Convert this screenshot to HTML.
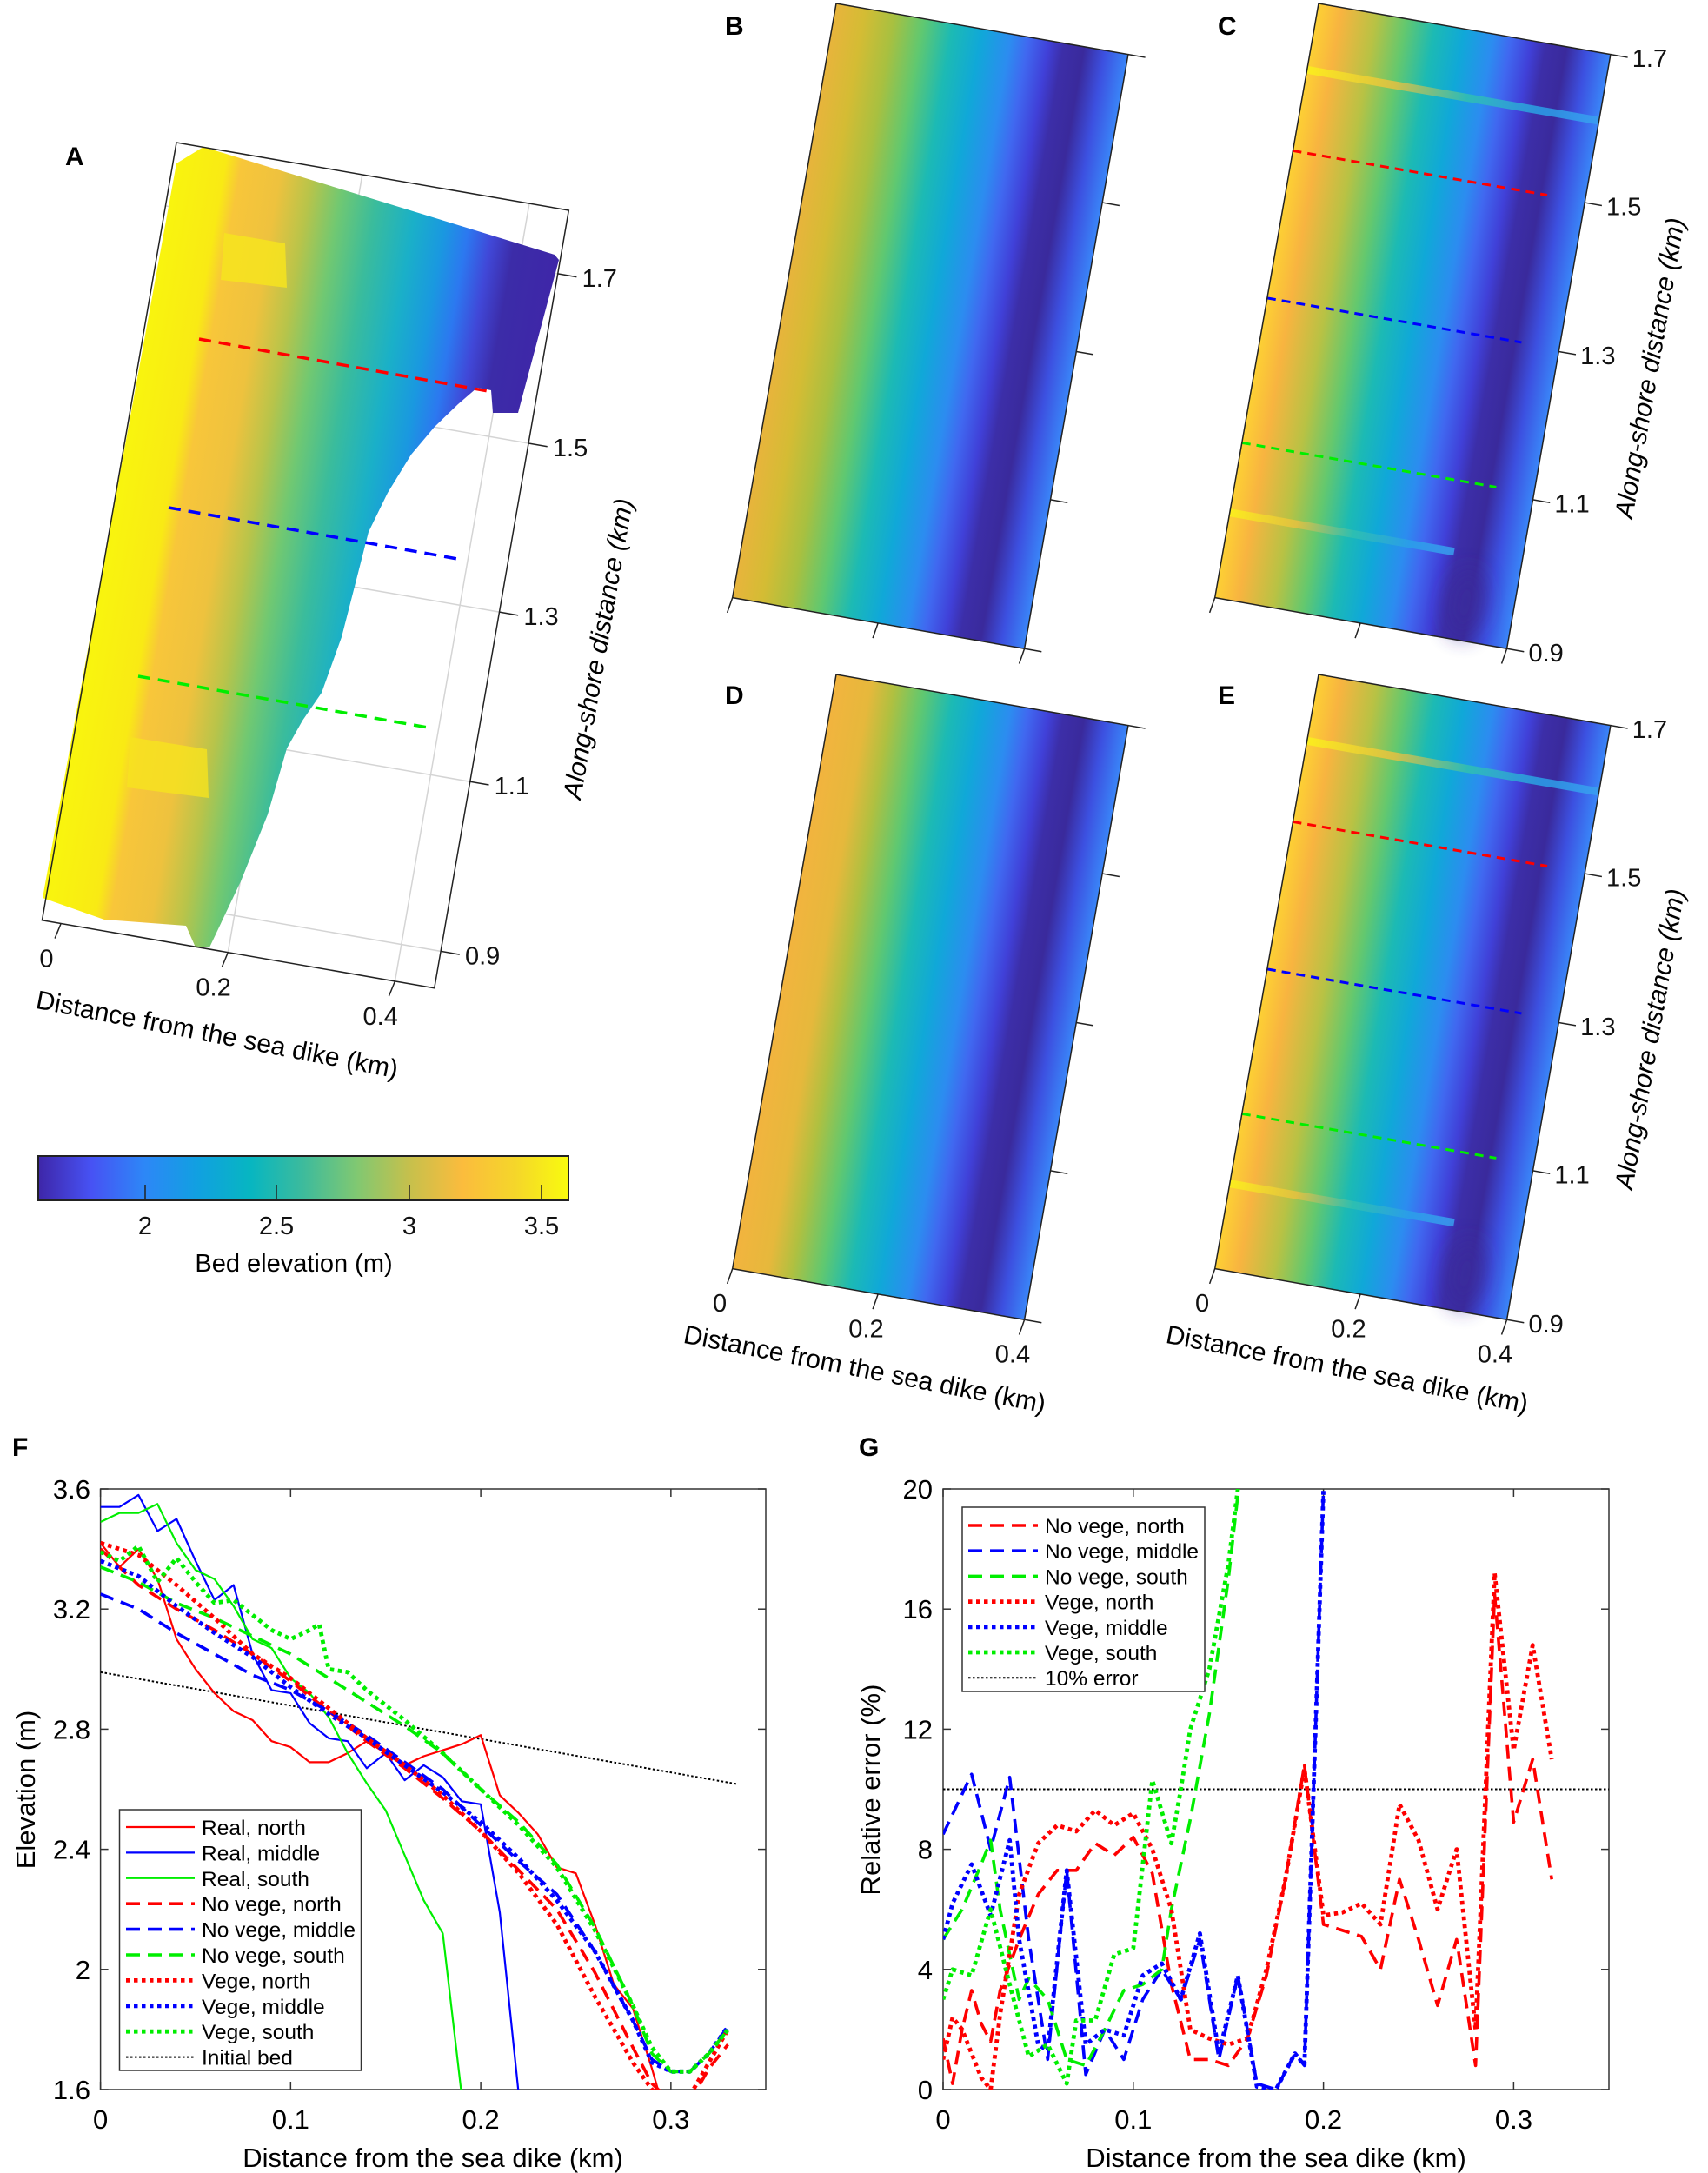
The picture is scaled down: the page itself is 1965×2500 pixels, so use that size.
<!DOCTYPE html>
<html><head><meta charset="utf-8">
<style>
html,body{margin:0;padding:0;background:#fff;}
svg{display:block;font-family:"Liberation Sans",Arial,sans-serif;}
</style></head>
<body>
<svg id="fig" width="1965" height="2500" viewBox="0 0 1965 2500" xmlns="http://www.w3.org/2000/svg">
<defs>
  <linearGradient id="gA" gradientUnits="userSpaceOnUse" x1="203" y1="164" x2="654" y2="242">
    <stop offset="0" stop-color="#f9f50e"/><stop offset="0.13" stop-color="#f9ea14"/>
    <stop offset="0.17" stop-color="#f8c63a"/><stop offset="0.27" stop-color="#eec23e"/>
    <stop offset="0.35" stop-color="#b8c44a"/><stop offset="0.43" stop-color="#70c872"/>
    <stop offset="0.52" stop-color="#3abc9c"/><stop offset="0.62" stop-color="#1ab0c8"/>
    <stop offset="0.70" stop-color="#1a98e0"/><stop offset="0.76" stop-color="#2c78f0"/>
    <stop offset="0.82" stop-color="#4048d8"/><stop offset="0.88" stop-color="#3c2ca8"/>
    <stop offset="1" stop-color="#3e26a8"/>
  </linearGradient>
  <linearGradient id="gB" x1="0" y1="0" x2="1" y2="0">
    <stop offset="0" stop-color="#e8b43c"/><stop offset="0.1" stop-color="#d4bc34"/>
    <stop offset="0.2" stop-color="#a8c040"/><stop offset="0.3" stop-color="#60c870"/>
    <stop offset="0.4" stop-color="#1cbab4"/><stop offset="0.5" stop-color="#10a8d8"/>
    <stop offset="0.6" stop-color="#2c8cf0"/><stop offset="0.66" stop-color="#4068f0"/>
    <stop offset="0.73" stop-color="#4040d8"/><stop offset="0.78" stop-color="#3c2ea8"/>
    <stop offset="0.85" stop-color="#3a2a9c"/><stop offset="0.92" stop-color="#3c50e0"/>
    <stop offset="1" stop-color="#3a86f8"/>
  </linearGradient>
  <linearGradient id="gC" x1="0" y1="0" x2="1" y2="0">
    <stop offset="0" stop-color="#fdd034"/><stop offset="0.08" stop-color="#f8b440"/>
    <stop offset="0.2" stop-color="#b8c244"/><stop offset="0.3" stop-color="#64c86e"/>
    <stop offset="0.4" stop-color="#1cbab4"/><stop offset="0.5" stop-color="#10a8d8"/>
    <stop offset="0.6" stop-color="#2c8cf0"/><stop offset="0.66" stop-color="#4068f0"/>
    <stop offset="0.73" stop-color="#4040d8"/><stop offset="0.78" stop-color="#3c2ea8"/>
    <stop offset="0.85" stop-color="#3a2a9c"/><stop offset="0.92" stop-color="#3c50e0"/>
    <stop offset="1" stop-color="#3a86f8"/>
  </linearGradient>
  <linearGradient id="gD" x1="0" y1="0" x2="1" y2="0">
    <stop offset="0" stop-color="#f2b43e"/><stop offset="0.12" stop-color="#e6b83c"/>
    <stop offset="0.2" stop-color="#b0c040"/><stop offset="0.3" stop-color="#60c870"/>
    <stop offset="0.4" stop-color="#1cbab4"/><stop offset="0.5" stop-color="#10a8d8"/>
    <stop offset="0.6" stop-color="#2c8cf0"/><stop offset="0.66" stop-color="#4068f0"/>
    <stop offset="0.73" stop-color="#4040d8"/><stop offset="0.78" stop-color="#3c2ea8"/>
    <stop offset="0.85" stop-color="#3a2a9c"/><stop offset="0.92" stop-color="#3c50e0"/>
    <stop offset="1" stop-color="#3a86f8"/>
  </linearGradient>
  <linearGradient id="gStripe" x1="0" y1="0" x2="1" y2="0">
    <stop offset="0" stop-color="#fbf21a"/><stop offset="0.3" stop-color="#e8c040"/>
    <stop offset="0.55" stop-color="#30c0b0"/><stop offset="0.8" stop-color="#2aa0e8"/>
    <stop offset="1" stop-color="#3aa0f0"/>
  </linearGradient>
  <linearGradient id="gCbar" x1="0" y1="0" x2="1" y2="0">
    <stop offset="0" stop-color="#3e26a8"/><stop offset="0.1" stop-color="#4752f4"/>
    <stop offset="0.2" stop-color="#2d87f7"/><stop offset="0.3" stop-color="#11a0e1"/>
    <stop offset="0.4" stop-color="#07b6c1"/><stop offset="0.5" stop-color="#3dbb9c"/>
    <stop offset="0.6" stop-color="#80c872"/><stop offset="0.7" stop-color="#c6c04c"/>
    <stop offset="0.8" stop-color="#fbbc3d"/><stop offset="0.9" stop-color="#f5d62a"/>
    <stop offset="1" stop-color="#f9fb0e"/>
  </linearGradient>
  <filter id="blur" x="-50%" y="-50%" width="200%" height="200%"><feGaussianBlur stdDeviation="12"/></filter>
  <clipPath id="clipF"><rect x="115.6" y="1713" width="765.4" height="691"/></clipPath>
  <clipPath id="clipG"><rect x="1085" y="1713" width="766" height="691"/></clipPath>
</defs>

<!-- ================= PANEL A ================= -->
<g>
  <text x="75" y="190" font-size="30" font-weight="bold">A</text>
  <g transform="translate(203,164) rotate(9.8)" stroke="#d4d4d4" stroke-width="1.5">
    <line x1="217" y1="0" x2="217" y2="908"/><line x1="412" y1="0" x2="412" y2="908"/>
    <line x1="0" y1="272" x2="458" y2="272"/><line x1="0" y1="469" x2="458" y2="469"/><line x1="0" y1="667" x2="458" y2="667"/>
    <line x1="0" y1="74" x2="458" y2="74"/><line x1="0" y1="865" x2="458" y2="865"/>
  </g>
  <polygon fill="url(#gA)"
    points="203,188 234,169 638,293 643,299 596,475 567,475 565,449 549,446 527,465 500,491 473,523 446,567 424,612 411,663 393,733 370,797 348,829 330,861 308,937 277,1014 241,1090 225,1090 214,1065 120,1058 49,1033"/>
  <polygon fill="#f6e41e" opacity="0.85" points="258,268 328,280 330,331 254,322"/>
  <polygon fill="#f6e41e" opacity="0.8" points="150,848 238,862 240,918 146,906"/>
  <line x1="229" y1="390" x2="567" y2="451" stroke="#ff0000" stroke-width="3.5" stroke-dasharray="14 9"/>
  <line x1="194" y1="584" x2="532" y2="644" stroke="#0000ff" stroke-width="3.5" stroke-dasharray="14 9"/>
  <line x1="159" y1="778" x2="498" y2="838" stroke="#00ee00" stroke-width="3.5" stroke-dasharray="14 9"/>
  <g transform="translate(203,164) rotate(9.8)">
    <rect x="0" y="0" width="458" height="908" fill="none" stroke="#222" stroke-width="1.5"/>
    <g stroke="#222" stroke-width="1.5">
      <line x1="22" y1="908" x2="18" y2="926"/><line x1="217" y1="908" x2="213" y2="926"/><line x1="412" y1="908" x2="408" y2="926"/>
      <line x1="458" y1="74" x2="480" y2="74"/><line x1="458" y1="272" x2="480" y2="272"/><line x1="458" y1="469" x2="480" y2="469"/><line x1="458" y1="667" x2="480" y2="667"/><line x1="458" y1="865" x2="480" y2="865"/>
    </g>
    <g font-size="29" fill="#111">
      <text transform="translate(488,84) rotate(-9.8)">1.7</text>
      <text transform="translate(488,282) rotate(-9.8)">1.5</text>
      <text transform="translate(488,479) rotate(-9.8)">1.3</text>
      <text transform="translate(488,677) rotate(-9.8)">1.1</text>
      <text transform="translate(488,875) rotate(-9.8)">0.9</text>
      <text transform="translate(14,960) rotate(-9.8)" text-anchor="middle">0</text>
      <text transform="translate(209,960) rotate(-9.8)" text-anchor="middle">0.2</text>
      <text transform="translate(404,960) rotate(-9.8)" text-anchor="middle">0.4</text>
    </g>
  </g>
  <text transform="translate(248,1200) rotate(11)" text-anchor="middle" font-size="30">Distance from the sea dike (km)</text>
  <text transform="translate(698,748) rotate(-80.1)" text-anchor="middle" font-size="30" font-style="italic">Along-shore distance (km)</text>
</g>

<!-- colorbar -->
<g>
  <rect x="44" y="1330" width="610" height="51" fill="url(#gCbar)" stroke="#222" stroke-width="2"/>
  <g stroke="#222" stroke-width="1.5">
    <line x1="167" y1="1381" x2="167" y2="1363"/><line x1="318" y1="1381" x2="318" y2="1363"/>
    <line x1="471" y1="1381" x2="471" y2="1363"/><line x1="623" y1="1381" x2="623" y2="1363"/>
  </g>
  <g font-size="29" text-anchor="middle" fill="#111">
    <text x="167" y="1420">2</text><text x="318" y="1420">2.5</text><text x="471" y="1420">3</text><text x="623" y="1420">3.5</text>
  </g>
  <text x="338" y="1463" text-anchor="middle" font-size="29">Bed elevation (m)</text>
</g>

<!-- ================= PANELS B-E ================= -->
<g>
  <text x="834" y="40" font-size="30" font-weight="bold">B</text>
  <g transform="translate(962,4) rotate(9.9)">
    <rect x="0" y="0" width="341" height="694" fill="url(#gB)" stroke="#222" stroke-width="1.5"/>
    <g stroke="#222" stroke-width="1.5">
      <line x1="341" y1="0" x2="361" y2="0"/><line x1="341" y1="173" x2="361" y2="173"/><line x1="341" y1="347" x2="361" y2="347"/><line x1="341" y1="520" x2="361" y2="520"/><line x1="341" y1="694" x2="361" y2="694"/>
      <line x1="0" y1="694" x2="-3" y2="712"/><line x1="170" y1="694" x2="167" y2="712"/><line x1="341" y1="694" x2="338" y2="712"/>
    </g>
  </g>
</g>
<g>
  <text x="1401" y="40" font-size="30" font-weight="bold">C</text>
  <g transform="translate(1517,4) rotate(9.9)">
    <rect x="0" y="0" width="341" height="694" fill="url(#gC)"/>
    <rect x="0" y="73" width="341" height="9" fill="url(#gStripe)" opacity="0.85"/>
    <rect x="0" y="590" width="262" height="9" fill="url(#gStripe)" opacity="0.85"/>
    <ellipse cx="285" cy="650" rx="22" ry="40" fill="#3a2a9c" opacity="0.8" filter="url(#blur)"/>
    <line x1="0" y1="172" x2="297" y2="172" stroke="#ff0000" stroke-width="3" stroke-dasharray="10 7"/>
    <line x1="0" y1="344" x2="297" y2="344" stroke="#0000ff" stroke-width="3" stroke-dasharray="10 7"/>
    <line x1="0" y1="513" x2="297" y2="513" stroke="#00ee00" stroke-width="3" stroke-dasharray="10 7"/>
    <rect x="0" y="0" width="341" height="694" fill="none" stroke="#222" stroke-width="1.5"/>
    <g stroke="#222" stroke-width="1.5">
      <line x1="341" y1="0" x2="361" y2="0"/><line x1="341" y1="173" x2="361" y2="173"/><line x1="341" y1="347" x2="361" y2="347"/><line x1="341" y1="520" x2="361" y2="520"/><line x1="341" y1="694" x2="361" y2="694"/>
      <line x1="0" y1="694" x2="-3" y2="712"/><line x1="170" y1="694" x2="167" y2="712"/><line x1="341" y1="694" x2="338" y2="712"/>
    </g>
    <g font-size="29" fill="#111">
      <text transform="translate(368,10) rotate(-9.9)">1.7</text>
      <text transform="translate(368,183) rotate(-9.9)">1.5</text>
      <text transform="translate(368,357) rotate(-9.9)">1.3</text>
      <text transform="translate(368,530) rotate(-9.9)">1.1</text>
      <text transform="translate(368,704) rotate(-9.9)">0.9</text>
    </g>
  </g>
  <text transform="translate(1908,425) rotate(-80.1)" text-anchor="middle" font-size="30" font-style="italic">Along-shore distance (km)</text>
</g>
<g>
  <text x="834" y="810" font-size="30" font-weight="bold">D</text>
  <g transform="translate(962,776) rotate(9.9)">
    <rect x="0" y="0" width="341" height="694" fill="url(#gD)" stroke="#222" stroke-width="1.5"/>
    <g stroke="#222" stroke-width="1.5">
      <line x1="341" y1="0" x2="361" y2="0"/><line x1="341" y1="173" x2="361" y2="173"/><line x1="341" y1="347" x2="361" y2="347"/><line x1="341" y1="520" x2="361" y2="520"/><line x1="341" y1="694" x2="361" y2="694"/>
      <line x1="0" y1="694" x2="-3" y2="712"/><line x1="170" y1="694" x2="167" y2="712"/><line x1="341" y1="694" x2="338" y2="712"/>
    </g>
    <g font-size="29" fill="#111" text-anchor="middle">
      <text transform="translate(-6,745) rotate(-9.9)">0</text>
      <text transform="translate(165,745) rotate(-9.9)">0.2</text>
      <text transform="translate(336,745) rotate(-9.9)">0.4</text>
    </g>
  </g>
  <text transform="translate(993,1585) rotate(11)" text-anchor="middle" font-size="30">Distance from the sea dike (km)</text>
</g>
<g>
  <text x="1401" y="810" font-size="30" font-weight="bold">E</text>
  <g transform="translate(1517,776) rotate(9.9)">
    <rect x="0" y="0" width="341" height="694" fill="url(#gC)"/>
    <rect x="0" y="73" width="341" height="9" fill="url(#gStripe)" opacity="0.85"/>
    <rect x="0" y="590" width="262" height="9" fill="url(#gStripe)" opacity="0.85"/>
    <ellipse cx="285" cy="650" rx="22" ry="40" fill="#3a2a9c" opacity="0.8" filter="url(#blur)"/>
    <line x1="0" y1="172" x2="297" y2="172" stroke="#ff0000" stroke-width="3" stroke-dasharray="10 7"/>
    <line x1="0" y1="344" x2="297" y2="344" stroke="#0000ff" stroke-width="3" stroke-dasharray="10 7"/>
    <line x1="0" y1="513" x2="297" y2="513" stroke="#00ee00" stroke-width="3" stroke-dasharray="10 7"/>
    <rect x="0" y="0" width="341" height="694" fill="none" stroke="#222" stroke-width="1.5"/>
    <g stroke="#222" stroke-width="1.5">
      <line x1="341" y1="0" x2="361" y2="0"/><line x1="341" y1="173" x2="361" y2="173"/><line x1="341" y1="347" x2="361" y2="347"/><line x1="341" y1="520" x2="361" y2="520"/><line x1="341" y1="694" x2="361" y2="694"/>
      <line x1="0" y1="694" x2="-3" y2="712"/><line x1="170" y1="694" x2="167" y2="712"/><line x1="341" y1="694" x2="338" y2="712"/>
    </g>
    <g font-size="29" fill="#111">
      <text transform="translate(368,10) rotate(-9.9)">1.7</text>
      <text transform="translate(368,183) rotate(-9.9)">1.5</text>
      <text transform="translate(368,357) rotate(-9.9)">1.3</text>
      <text transform="translate(368,530) rotate(-9.9)">1.1</text>
      <text transform="translate(368,704) rotate(-9.9)">0.9</text>
    </g>
    <g font-size="29" fill="#111" text-anchor="middle">
      <text transform="translate(-6,745) rotate(-9.9)">0</text>
      <text transform="translate(165,745) rotate(-9.9)">0.2</text>
      <text transform="translate(336,745) rotate(-9.9)">0.4</text>
    </g>
  </g>
  <text transform="translate(1908,1197) rotate(-80.1)" text-anchor="middle" font-size="30" font-style="italic">Along-shore distance (km)</text>
  <text transform="translate(1548,1585) rotate(11)" text-anchor="middle" font-size="30">Distance from the sea dike (km)</text>
</g>

<!-- ================= PANEL F ================= -->
<g id="panelF">
  <text x="14" y="1675" font-size="30" font-weight="bold">F</text>
  <rect x="115.6" y="1713" width="765.4" height="691" fill="#fff" stroke="#333" stroke-width="1.5"/>
  <g id="fTicks"></g>
  <g id="fLines" clip-path="url(#clipF)"></g>
  <text x="498" y="2493" text-anchor="middle" font-size="31">Distance from the sea dike (km)</text>
  <text transform="translate(40,2059) rotate(-90)" text-anchor="middle" font-size="31">Elevation (m)</text>
  <g id="fLegend"></g>
</g>

<!-- ================= PANEL G ================= -->
<g id="panelG">
  <text x="988" y="1675" font-size="30" font-weight="bold">G</text>
  <rect x="1085" y="1713" width="766" height="691" fill="#fff" stroke="#333" stroke-width="1.5"/>
  <g id="gTicks"></g>
  <g id="gLines" clip-path="url(#clipG)"></g>
  <text x="1468" y="2493" text-anchor="middle" font-size="31">Distance from the sea dike (km)</text>
  <text transform="translate(1012,2059) rotate(-90)" text-anchor="middle" font-size="31">Relative error (%)</text>
  <g id="gLegend"></g>
</g>
</svg>

<script>
// ---------- Panel F data ----------
const realNorthX = [0,.01,.02,.03,.04,.05,.06,.07,.08,.09,.10,.11,.12,.13,.14,.15,.16,.17,.18,.19,.20,.21,.22,.23,.24,.25,.26,.27,.28,.29,.30];
const realNorthY = [3.42,3.34,3.40,3.30,3.10,3.00,2.92,2.86,2.83,2.76,2.74,2.69,2.69,2.72,2.76,2.72,2.68,2.71,2.73,2.75,2.78,2.58,2.52,2.45,2.34,2.32,2.15,1.95,1.87,1.67,1.45];
const realMiddleX = [0,.01,.02,.03,.04,.05,.06,.07,.08,.09,.10,.11,.12,.13,.14,.15,.16,.17,.18,.19,.20,.21,.22];
const realMiddleY = [3.54,3.54,3.58,3.46,3.50,3.36,3.23,3.28,3.05,2.93,2.92,2.82,2.77,2.76,2.67,2.72,2.63,2.68,2.64,2.56,2.55,2.19,1.58];
const realSouthX = [0,.01,.02,.03,.04,.05,.06,.07,.08,.09,.10,.11,.12,.13,.14,.15,.16,.17,.18,.19];
const realSouthY = [3.49,3.52,3.52,3.55,3.42,3.33,3.30,3.21,3.10,3.07,2.97,2.92,2.84,2.72,2.62,2.53,2.38,2.23,2.12,1.58];
const modelX = [0,.02,.04,.06,.08,.10,.12,.14,.16,.18,.20,.22,.24,.26,.28,.29,.30,.31,.32,.33];
const noVegeNorthY = [3.40,3.28,3.20,3.13,3.05,2.96,2.86,2.76,2.67,2.57,2.46,2.33,2.20,1.99,1.74,1.62,1.56,1.56,1.67,1.75];
const noVegeMiddleY = [3.25,3.20,3.12,3.05,2.98,2.93,2.86,2.78,2.69,2.60,2.48,2.36,2.25,2.06,1.83,1.70,1.66,1.66,1.72,1.81];
const noVegeSouthY = [3.34,3.29,3.22,3.17,3.11,3.05,2.97,2.89,2.81,2.72,2.60,2.49,2.35,2.14,1.88,1.72,1.66,1.66,1.72,1.80];
const vegeNorthY = [3.42,3.38,3.28,3.17,3.05,2.97,2.87,2.77,2.68,2.58,2.46,2.32,2.15,1.91,1.69,1.60,1.55,1.58,1.69,1.80];
const vegeMiddleY = [3.36,3.31,3.21,3.12,3.04,2.94,2.85,2.77,2.68,2.59,2.49,2.37,2.23,2.06,1.83,1.69,1.66,1.66,1.72,1.81];
const vegeSouthX = [0,.01,.02,.03,.04,.05,.06,.07,.08,.09,.10,.11,.115,.12,.13,.14,.16,.18,.20,.22,.24,.26,.28,.29,.30,.31,.32,.33];
const vegeSouthY = [3.39,3.36,3.41,3.29,3.37,3.29,3.22,3.23,3.18,3.13,3.10,3.13,3.15,3.00,2.99,2.93,2.83,2.72,2.60,2.48,2.34,2.13,1.88,1.74,1.66,1.66,1.72,1.80];
const initBedX = [0,0.335];
const initBedY = [2.99,2.617];
const fXTicks = [0,0.1,0.2,0.3];
const fXTickLabels = ["0","0.1","0.2","0.3"];
const fYTicks = [1.6,2,2.4,2.8,3.2,3.6];
const fYTickLabels = ["1.6","2","2.4","2.8","3.2","3.6"];
const fLegendLabels = ["Real, north","Real, middle","Real, south","No vege, north","No vege, middle","No vege, south","Vege, north","Vege, middle","Vege, south","Initial bed"];

// ---------- Panel G data ----------
const nvNorthX = [0,.005,.01,.015,.02,.025,.03,.04,.05,.06,.07,.08,.09,.10,.11,.12,.13,.14,.15,.16,.17,.18,.19,.20,.21,.22,.23,.24,.25,.26,.27,.28,.29,.30,.31,.32];
const nvNorthY = [1.7,0.2,2.0,3.3,2.2,1.6,3.3,5.0,6.5,7.3,7.3,8.2,7.8,8.4,7.2,3.5,1.0,1.0,0.8,1.7,3.8,7.0,10.8,5.5,5.3,5.1,4.0,7.0,5.0,2.8,5.0,0.8,16.5,8.9,11.0,7.0];
const vNorthY = [1.0,2.4,2.0,1.2,0.4,0.0,2.5,6.5,8.2,8.8,8.6,9.3,8.8,9.2,8.0,6.0,2.0,1.7,1.5,1.7,4.0,7.0,10.7,5.8,5.9,6.2,5.5,9.5,8.3,6.0,8.0,2.0,17.2,11.3,14.8,11.0];
const nvMiddleX = [0,.015,.025,.035,.045,.055,.065,.075,.085,.095,.105,.115,.125,.135,.145,.155,.165,.175,.185,.19,.2,.205];
const nvMiddleY = [8.5,10.5,8.0,10.4,5.0,1.0,7.3,0.5,2.0,1.0,3.0,4.0,3.0,5.0,1.0,3.8,0.2,0.0,1.2,0.8,20,25];
const vMiddleX = [0,.005,.015,.025,.035,.04,.05,.055,.065,.075,.085,.095,.105,.115,.125,.135,.145,.155,.165,.175,.185,.19,.2,.205];
const vMiddleY = [5.0,6.2,7.5,5.8,8.3,5.0,1.5,1.3,7.3,1.5,2.0,1.8,3.8,4.2,3.0,5.2,1.2,3.8,0.1,0.0,1.2,0.8,20,25];
const nvSouthX = [0,.01,.02,.025,.03,.04,.045,.055,.065,.075,.085,.095,.105,.115,.12,.13,.14,.15,.155,.16];
const nvSouthY = [5.0,6.0,7.5,8.3,6.0,3.0,3.7,3.0,1.0,0.8,2.0,3.3,3.5,4.0,6.0,9.0,12.5,17.0,19.8,23];
const vSouthX = [0,.005,.015,.025,.035,.045,.055,.065,.07,.08,.09,.10,.11,.12,.125,.13,.14,.15,.155,.16];
const vSouthY = [3.0,4.0,3.8,6.0,3.5,1.1,1.5,0.2,2.3,2.3,4.5,4.7,10.3,8.2,10.0,12.0,14.0,17.5,20,23];
const errRefX = [0,0.35];
const errRefY = [10,10];
const gXTicks = [0,0.1,0.2,0.3];
const gXTickLabels = ["0","0.1","0.2","0.3"];
const gYTicks = [0,4,8,12,16,20];
const gYTickLabels = ["0","4","8","12","16","20"];
const gLegendLabels = ["No vege, north","No vege, middle","No vege, south","Vege, north","Vege, middle","Vege, south","10% error"];

const NS = "http://www.w3.org/2000/svg";
function mk(tag, attrs, parent){ const e=document.createElementNS(NS,tag); for(const k in attrs) e.setAttribute(k,attrs[k]); parent.appendChild(e); return e; }

const fx = v => 115.6 + v*2187.5;
const fy = v => 1713 + (3.6 - v)*345.5;
const gx = v => 1085 + v*2188;
const gy = v => 2404 - v*34.55;

const STY = {
  solid:{w:2.2, d:null},
  dash:{w:3.6, d:"16 9"},
  dot:{w:4.8, d:"4.5 4.5"},
  ref:{w:2, d:"2.5 2.5"}
};
const RED="#ff0000", BLUE="#0000ff", GREEN="#00ee00", BLACK="#000";

function drawLine(parent, xs, ys, sx, sy, color, sty, name){
  let d="";
  for(let i=0;i<xs.length;i++){ d += (i?"L":"M") + sx(xs[i]).toFixed(1)+","+sy(ys[i]).toFixed(1); }
  const p = mk("path",{d:d, fill:"none", stroke:color, "stroke-width":sty.w, "stroke-linejoin":"round"}, parent);
  if(sty.d) p.setAttribute("stroke-dasharray", sty.d);
  
  
}

function drawTicks(parent, xT, xL, yT, yL, sx, sy, x0, x1, y0, y1, xLabX){
  for(let i=0;i<xT.length;i++){
    const X = sx(xT[i]);
    mk("line",{x1:X,y1:y1,x2:X,y2:y1-9,stroke:"#333","stroke-width":1.5},parent);
    mk("line",{x1:X,y1:y0,x2:X,y2:y0+9,stroke:"#333","stroke-width":1.5},parent);
    const t = mk("text",{x:X,y:y1+45,"text-anchor":"middle","font-size":31},parent);
    t.textContent = xL[i];
    
    
  }
  for(let i=0;i<yT.length;i++){
    const Y = sy(yT[i]);
    mk("line",{x1:x0,y1:Y,x2:x0+9,y2:Y,stroke:"#333","stroke-width":1.5},parent);
    mk("line",{x1:x1,y1:Y,x2:x1-9,y2:Y,stroke:"#333","stroke-width":1.5},parent);
    const t = mk("text",{x:xLabX,y:Y+11,"text-anchor":"end","font-size":31},parent);
    t.textContent = yL[i];
    
    
  }
}

function drawLegend(parent, box, labels, styles, colors, y0, dy, lx0, lx1, tx, name){
  const r = mk("rect",{x:box[0],y:box[1],width:box[2],height:box[3],fill:"#fff",stroke:"#333","stroke-width":1.5},parent);
  
  
  for(let i=0;i<labels.length;i++){
    const Y = y0 + i*dy;
    const l = mk("line",{x1:lx0,y1:Y,x2:lx1,y2:Y,stroke:colors[i],"stroke-width":styles[i].w},parent);
    if(styles[i].d) l.setAttribute("stroke-dasharray", styles[i].d);
    
    
    const t = mk("text",{x:tx,y:Y+9,"font-size":24.5},parent);
    t.textContent = labels[i];
    
    
  }
}

// Panel F
const fT = document.getElementById("fTicks");
drawTicks(fT, fXTicks, fXTickLabels, fYTicks, fYTickLabels, fx, fy, 115.6, 881, 1713, 2404, 104);
const fL = document.getElementById("fLines");
drawLine(fL, initBedX, initBedY, fx, fy, BLACK, STY.ref, "initial-bed-line");
drawLine(fL, realNorthX, realNorthY, fx, fy, RED, STY.solid, "real-north-line");
drawLine(fL, realMiddleX, realMiddleY, fx, fy, BLUE, STY.solid, "real-middle-line");
drawLine(fL, realSouthX, realSouthY, fx, fy, GREEN, STY.solid, "real-south-line");
drawLine(fL, modelX, noVegeNorthY, fx, fy, RED, STY.dash, "no-vege-north-line");
drawLine(fL, modelX, noVegeMiddleY, fx, fy, BLUE, STY.dash, "no-vege-middle-line");
drawLine(fL, modelX, noVegeSouthY, fx, fy, GREEN, STY.dash, "no-vege-south-line");
drawLine(fL, modelX, vegeNorthY, fx, fy, RED, STY.dot, "vege-north-line");
drawLine(fL, modelX, vegeMiddleY, fx, fy, BLUE, STY.dot, "vege-middle-line");
drawLine(fL, vegeSouthX, vegeSouthY, fx, fy, GREEN, STY.dot, "vege-south-line");
drawLegend(document.getElementById("fLegend"), [137.5,2082,278,300], fLegendLabels,
  [STY.solid,STY.solid,STY.solid,STY.dash,STY.dash,STY.dash,STY.dot,STY.dot,STY.dot,STY.ref],
  [RED,BLUE,GREEN,RED,BLUE,GREEN,RED,BLUE,GREEN,BLACK], 2102, 29.4, 145, 224, 232, "legend-f");

// Panel G
const gT = document.getElementById("gTicks");
drawTicks(gT, gXTicks, gXTickLabels, gYTicks, gYTickLabels, gx, gy, 1085, 1851, 1713, 2404, 1073);
const gL = document.getElementById("gLines");
drawLine(gL, errRefX, errRefY, gx, gy, BLACK, STY.ref, "ten-percent-error-line");
drawLine(gL, nvNorthX, nvNorthY, gx, gy, RED, STY.dash, "no-vege-north-error");
drawLine(gL, nvMiddleX, nvMiddleY, gx, gy, BLUE, STY.dash, "no-vege-middle-error");
drawLine(gL, nvSouthX, nvSouthY, gx, gy, GREEN, STY.dash, "no-vege-south-error");
drawLine(gL, nvNorthX, vNorthY, gx, gy, RED, STY.dot, "vege-north-error");
drawLine(gL, vMiddleX, vMiddleY, gx, gy, BLUE, STY.dot, "vege-middle-error");
drawLine(gL, vSouthX, vSouthY, gx, gy, GREEN, STY.dot, "vege-south-error");
drawLegend(document.getElementById("gLegend"), [1107,1734,279,212], gLegendLabels,
  [STY.dash,STY.dash,STY.dash,STY.dot,STY.dot,STY.dot,STY.ref],
  [RED,BLUE,GREEN,RED,BLUE,GREEN,BLACK], 1755, 29.2, 1114, 1194, 1202, "legend-g");
</script>
</body></html>
